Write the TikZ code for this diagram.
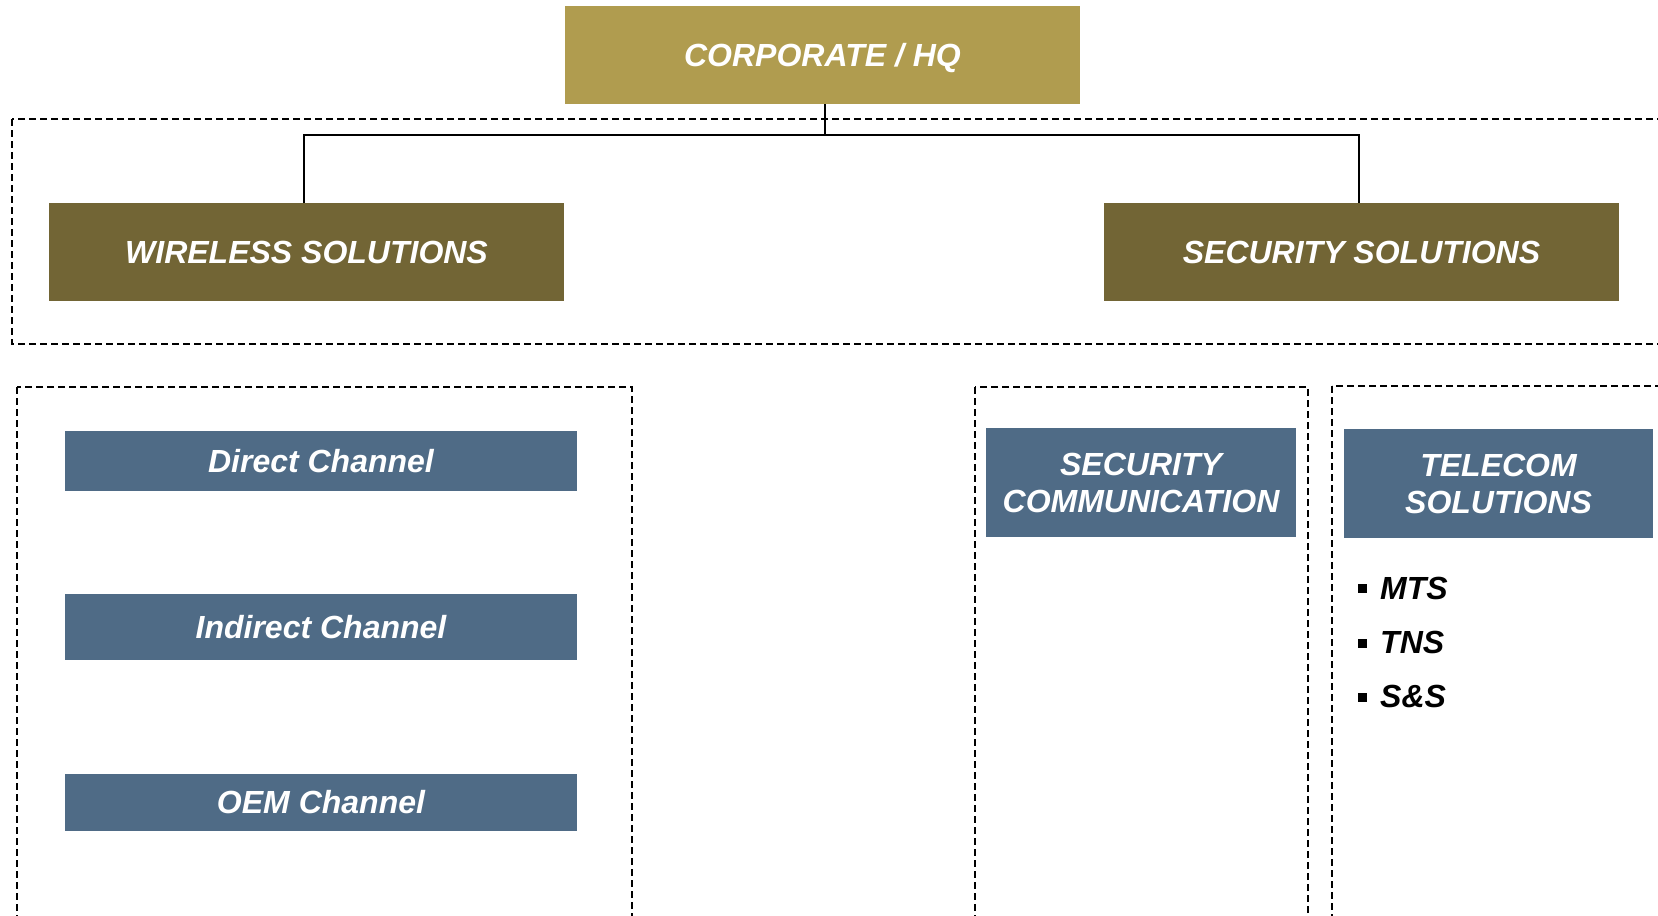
\documentclass[tikz,border=0pt]{standalone}
\usepackage{fontspec}
\setmainfont{Liberation Sans}
\definecolor{hqgold}{HTML}{B09C4F}
\definecolor{olive}{HTML}{726535}
\definecolor{slate}{HTML}{4F6B86}
\tikzset{
  box/.style={rectangle, inner sep=0pt, text=white, align=center,
    font=\fontsize{32}{37}\selectfont\bfseries\itshape},
  hqbox/.style={box, fill=hqgold, minimum width=515pt, minimum height=98pt},
  divbox/.style={box, fill=olive, minimum width=515pt, minimum height=98pt},
  chbox/.style={box, fill=slate, minimum width=512pt},
  unitbox/.style={box, fill=slate, minimum width=310pt, minimum height=109pt},
  group/.style={draw=black, line width=1.6pt, dash pattern=on 7pt off 4pt},
  link/.style={draw=black, line width=2pt},
  bulletsq/.style={rectangle, fill=black, inner sep=0pt, minimum size=9pt},
  item/.style={anchor=base west, inner sep=0pt, text=black,
    font=\fontsize{32}{37}\selectfont\bfseries\itshape}
}
\begin{document}
\begin{tikzpicture}[x=1pt, y=-1pt]
\clip (0,0) rectangle (1658,916);
\fill[white] (0,0) rectangle (1658,916);
% dashed groups
\draw[group] (12,119) rectangle (1680,344);
\draw[group] (17,387) rectangle (632,940);
\draw[group] (975,387) rectangle (1308,940);
\draw[group] (1332,386) rectangle (1680,940);
% top nodes
\node[hqbox, text depth=-6pt] (hq) at (822.5,55) {CORPORATE / HQ};
\node[divbox] (ws) at (306.5,252) {WIRELESS SOLUTIONS};
\node[divbox] (ss) at (1361.5,252) {SECURITY SOLUTIONS};
% connectors
\coordinate (bus) at (0,135);
\draw[link] ([xshift=2.5pt]hq.south) -- ([xshift=2.5pt]hq.south |- bus);
\draw[link] ([xshift=-3pt]ws.north) |- ([xshift=-2.5pt]bus -| ss.north) -- ([xshift=-2.5pt]ss.north);
% channels
\node[chbox, minimum height=60pt] (direct) at (321,461) {Direct Channel};
\node[chbox, minimum height=66pt] (indirect) at (321,627) {Indirect Channel};
\node[chbox, minimum height=57pt] (oem) at (321,802.5) {OEM Channel};
% units
\node[unitbox] (seccomm) at (1141,482.5) {SECURITY\\COMMUNICATION};
\node[unitbox, minimum width=309pt] (telecom) at (1498.5,483.5) {TELECOM\\SOLUTIONS};
% bullets
\node[bulletsq] (b1) at (1362,588) {};
\node[bulletsq] (b2) at (1362,643) {};
\node[bulletsq] (b3) at (1362,697) {};
\node[item] (mts) at (1380,599) {MTS};
\node[item] (tns) at (1380,653) {TNS};
\node[item] (sns) at (1380,707) {S\&S};
\end{tikzpicture}
\end{document}
